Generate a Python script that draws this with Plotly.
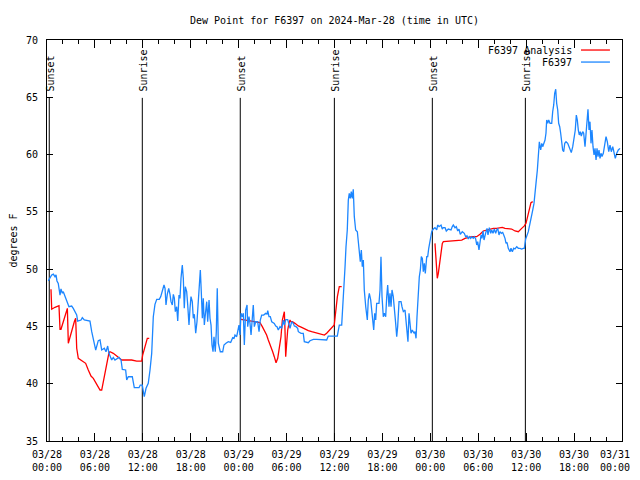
import pandas as pd
import plotly.graph_objects as go

START = pd.Timestamp("2024-03-28 00:00")

# ---- observed dew point (F6397), hours since 03/28 00:00 UTC ----
obs_hours = [
    0.16, 0.59, 0.79, 1.0, 1.13, 1.25, 1.41, 1.63, 1.75, 1.92, 2.04, 2.47, 2.75, 3.09, 3.29,
    3.72, 3.84, 4.26, 4.42, 4.67, 5.38, 5.6, 5.8, 6.1, 6.42, 6.64, 6.85, 7.18, 7.39, 7.6,
    7.76, 8.1, 8.3, 8.51, 9.02, 9.27, 9.43, 9.85, 9.98, 10.18, 10.68, 10.93, 11.52, 11.68, 11.93,
    12.18, 12.4, 12.68, 12.9, 13.11, 13.31, 13.52, 13.74, 14.06, 14.24, 14.49, 14.65, 14.78, 14.9,
    15.06, 15.24, 15.4, 15.53, 15.69, 15.82, 15.94, 16.07, 16.24, 16.37, 16.53, 16.65, 16.78, 16.94,
    17.07, 17.19, 17.32, 17.49, 17.62, 17.78, 17.91, 18.03, 18.19, 18.32, 18.45, 18.62, 18.78, 18.95,
    19.07, 19.2, 19.32, 19.45, 19.57, 19.7, 19.82, 20.0, 20.12, 20.29, 20.41, 20.54, 20.66, 20.79,
    20.91, 21.07, 21.2, 21.32, 21.45, 21.58, 21.7, 22.0, 22.16, 22.41, 22.7, 23.0, 23.25, 23.42,
    23.54, 23.75, 23.88, 24.04, 24.17, 24.29, 24.46, 24.58, 24.71, 24.88, 25.05, 25.13, 25.29, 25.42,
    25.55, 25.71, 25.83, 25.96, 26.13, 26.38, 26.55, 26.71, 26.88, 27.13, 27.39, 27.55, 27.64, 27.8,
    27.96, 28.14, 28.46, 28.64, 28.8, 28.96, 29.18, 29.39, 29.59, 29.71, 29.89, 30.14, 30.3, 30.43,
    30.64, 30.84, 30.97, 31.18, 31.39, 31.47, 31.81, 32.09, 32.22, 32.52, 32.72, 32.93, 33.35, 33.77,
    33.97, 34.31, 34.81, 35.02, 35.22, 36.06, 36.35, 36.6, 36.9, 37.03, 37.19, 37.32, 37.44, 37.6,
    37.73, 37.85, 37.98, 38.1, 38.23, 38.35, 38.48, 38.65, 38.86, 38.98, 39.11, 39.23, 39.36, 39.48,
    39.61, 39.73, 39.91, 40.03, 40.11, 40.23, 40.36, 40.53, 40.66, 40.78, 40.91, 41.03, 41.16, 41.28,
    41.57, 41.7, 41.82, 41.95, 42.11, 42.24, 42.41, 42.54, 42.66, 42.82, 42.95, 43.08, 43.2, 43.36,
    43.49, 43.66, 43.79, 43.91, 44.08, 44.33, 44.45, 44.62, 44.83, 44.95, 45.08, 45.2, 45.33, 45.45,
    45.58, 45.74, 45.96, 46.08, 46.21, 46.33, 46.46, 46.62, 46.75, 46.87, 47.0, 47.12, 47.25, 47.37,
    47.55, 47.67, 47.8, 47.92, 48.05, 48.17, 48.37, 48.58, 48.8, 48.92, 49.09, 49.34, 49.5, 49.62,
    49.84, 50.0, 50.25, 50.59, 50.75, 50.88, 51.09, 51.25, 51.43, 51.59, 51.75, 52.0, 52.25, 52.43,
    52.59, 52.76, 52.88, 53.06, 53.18, 53.38, 53.51, 53.68, 53.81, 53.93, 54.09, 54.22, 54.35, 54.47,
    54.6, 54.72, 54.85, 54.97, 55.1, 55.22, 55.39, 55.56, 55.68, 55.85, 56.01, 56.18, 56.31, 56.44,
    56.6, 56.72, 56.89, 57.06, 57.19, 57.35, 57.48, 57.6, 57.76, 57.98, 58.1, 58.27, 58.44, 58.6,
    58.82, 59.02, 59.23, 59.44, 59.64, 59.77, 59.94, 60.11, 60.27, 60.48, 60.69, 60.82, 60.98, 61.11,
    61.23, 61.4, 61.52, 61.65, 61.82, 61.95, 62.07, 62.23, 62.36, 62.48, 62.57, 62.7, 62.82, 62.99,
    63.2, 63.32, 63.45, 63.57, 63.7, 63.82, 63.95, 64.07, 64.2, 64.32, 64.45, 64.57, 64.7, 64.83,
    64.99, 65.2, 65.37, 65.49, 65.65, 65.83, 65.99, 66.15, 66.28, 66.4, 66.53, 66.65, 66.78, 66.9,
    67.08, 67.2, 67.37, 67.49, 67.62, 67.74, 67.87, 67.99, 68.12, 68.24, 68.37, 68.5, 68.62, 68.75,
    68.87, 69.0, 69.12, 69.25, 69.37, 69.5, 69.66, 69.83, 70.0, 70.16, 70.34, 70.5, 70.66, 70.84,
    71.0, 71.16, 71.34, 71.54, 71.75,
]
obs_values = [
    48.97, 49.49, 49.57, 49.34, 49.5, 48.97, 48.76, 47.74, 48.27, 47.9, 48.03, 47.16, 46.72, 46.78, 46.58,
    46.0, 45.47, 45.56, 45.76, 45.56, 45.47, 44.54, 43.82, 42.94, 43.76, 43.82, 42.94, 43.09, 42.79, 43.29,
    42.65, 42.07, 42.3, 42.07, 42.3, 42.07, 41.25, 41.2, 40.32, 40.61, 40.61, 39.65, 39.65, 39.88, 39.88,
    38.87, 39.6, 40.03, 41.2, 42.65, 45.85, 46.93, 47.37, 47.37, 47.6, 48.33, 48.62, 48.33, 46.87,
    47.8, 48.33, 47.8, 47.16, 46.87, 47.8, 47.5, 46.29, 46.72, 45.47, 47.74, 47.45, 49.2, 50.36,
    49.2, 46.58, 48.47, 48.03, 46.87, 45.12, 46.58, 47.6, 47.16, 45.71, 46.06, 44.4, 45.41, 47.02,
    48.33, 49.93, 48.03, 45.71, 47.45, 45.12, 45.99, 47.16, 45.41, 47.31, 45.71, 45.12, 43.38, 42.79,
    44.1, 42.79, 44.54, 48.33, 43.53, 42.94, 42.79, 42.79, 43.38, 43.53, 43.67, 43.6, 44.02, 43.96,
    44.25, 44.1, 44.54, 45.12, 44.25, 46.15, 45.85, 46.15, 43.38, 46.43, 46.87, 44.98, 45.85, 45.27,
    44.25, 45.71, 46.87, 44.98, 45.41, 45.41, 44.54, 45.56, 45.99, 45.99, 46.15, 46.08, 46.37, 45.85,
    45.85, 45.41, 45.27, 45.04, 44.98, 44.69, 44.98, 44.84, 45.56, 45.12, 45.6, 45.6, 45.27, 44.84,
    45.41, 45.27, 45.04, 44.98, 44.84, 44.54, 44.4, 44.4, 43.67, 43.58, 43.58, 43.75, 43.87, 43.87,
    43.87, 43.82, 43.87, 43.82, 44.16, 44.16, 44.16, 45.12, 45.12, 46.72, 48.18, 50.21, 51.96, 53.42,
    56.03, 56.62, 56.18, 56.76, 56.18, 56.97, 54.58, 53.42, 53.27, 52.54, 51.67, 50.65, 51.67, 50.21,
    50.79, 48.18, 46.72, 46.15, 45.56, 47.31, 47.89, 47.31, 46.43, 45.56, 44.69, 46.15, 45.56, 47.02,
    47.02, 48.18, 51.09, 47.6, 45.85, 46.15, 45.85, 47.6, 48.62, 46.72, 47.89, 46.72, 48.18, 47.6,
    46.15, 45.27, 44.1, 44.98, 47.16, 47.16, 46.72, 46.29, 46.43, 45.56, 44.98, 43.67, 46.15, 44.98,
    44.4, 44.69, 44.4, 44.54, 43.96, 45.85, 47.6, 49.34, 49.93, 51.09, 50.94, 49.78, 50.5, 49.63,
    51.09, 51.09, 51.82, 52.25, 52.69, 53.27, 53.5, 53.62, 53.42, 53.85, 53.71, 53.85, 53.5, 53.62,
    53.62, 53.33, 53.5, 53.42, 53.71, 53.85, 53.62, 53.71, 53.33, 53.5, 53.04, 53.27, 53.13, 52.83,
    52.92, 52.63, 52.83, 52.69, 52.83, 52.69, 52.83, 52.63, 52.11, 52.4, 51.67, 52.54, 52.98, 52.69,
    53.33, 52.54, 53.13, 53.27, 53.56, 52.98, 53.62, 53.13, 53.42, 53.13, 53.5, 53.13, 53.42, 53.56,
    52.98, 53.27, 53.13, 53.21, 52.98, 52.69, 52.25, 52.34, 51.82, 51.52, 51.82, 51.52, 51.82, 51.76,
    51.96, 51.82, 51.82, 51.76, 51.82, 51.82, 52.63, 52.98, 53.27, 54.0, 54.58, 55.16, 55.74, 56.91,
    57.49, 58.65, 60.11, 61.12, 60.4, 60.98, 60.69, 61.12, 61.27, 61.86, 63.02, 62.73, 63.02, 62.73,
    62.73, 63.74, 64.33, 65.35, 65.7, 64.47, 63.89, 62.73, 62.43, 61.86, 60.98, 60.4, 60.25, 60.98,
    61.12, 60.98, 60.69, 60.4, 60.17, 60.69, 61.27, 62.14, 63.45, 63.02, 62.14, 61.71, 62.0, 61.62,
    62.0, 61.86, 60.69, 61.86, 63.02, 63.95, 62.14, 62.87, 60.98, 62.14, 60.69, 59.96, 60.54, 59.53,
    60.54, 59.82, 60.4, 59.67, 60.11, 59.82, 60.11, 60.69, 61.56, 61.12, 60.25, 60.83, 60.25, 60.69,
    60.11, 59.67, 60.11, 60.4, 60.54,
]

# ---- analysis dew point (three separate runs; None = gap) ----
ana_hours = [
    0.5, 0.59, 1.0, 1.5, 1.63, 1.75, 2.04, 2.34, 2.55, 2.67, 2.88, 3.09, 3.26, 3.42, 3.59, 3.72,
    3.92, 4.55, 4.84, 5.17, 5.51, 5.8, 6.01, 6.34, 6.64, 6.85, 7.18, 7.39, 7.6, 7.76, 7.89, 8.3,
    8.73, 9.14, 9.35, 9.77, 10.6, 11.23, 11.86, 11.98, 12.15, 12.39, 12.56, 12.8,
    None,
    24.29, 24.8, 25.42, 25.83, 26.38, 26.67, 26.96, 27.3, 27.5, 27.71, 28.05, 28.26, 28.46, 28.68,
    28.89, 29.09, 29.3, 29.47, 29.59, 29.72, 29.8, 29.89, 30.01, 30.14, 30.3, 30.43, 30.55, 30.72,
    31.05, 31.47, 31.89, 32.3, 32.72, 33.14, 33.56, 33.98, 34.39, 34.73, 35.02, 35.44, 35.85, 35.97,
    36.06, 36.19, 36.36, 36.6, 36.9,
    None,
    48.58, 48.66, 48.75, 48.87, 49.0, 49.17, 49.34, 49.5, 49.63, 50.67, 51.51, 51.93, 52.34, 52.76,
    53.18, 53.8, 54.22, 54.63, 55.06, 55.47, 55.89, 56.31, 56.72, 57.01, 57.35, 57.77, 58.18, 58.6,
    59.02, 59.44, 59.77, 59.98, 60.15, 60.4, 60.6, 60.82,
]
ana_values = [
    48.24, 46.5, 46.67, 46.81, 44.75, 44.75, 45.41, 46.0, 46.58, 43.53, 44.1, 44.69, 45.04, 45.41, 45.71, 43.09,
    42.22, 41.92, 41.78, 41.2, 40.67, 40.47, 40.18, 39.74, 39.45, 39.45, 40.61, 41.63, 42.36, 42.71, 42.79, 42.65,
    42.42, 42.22, 42.07, 42.07, 42.07, 41.98, 41.98, 42.5, 42.94, 43.38, 43.96, 43.96,
    None,
    45.62, 45.56, 45.5, 45.41, 45.41, 45.33, 44.98, 44.54, 44.25, 43.82, 43.24, 42.79, 42.36, 41.83,
    42.22, 43.09, 44.1, 45.56, 45.85, 46.29, 44.69, 42.36, 43.53, 44.69, 45.27, 45.56, 45.41, 45.41,
    45.27, 45.04, 44.92, 44.75, 44.63, 44.54, 44.45, 44.4, 44.34, 44.25, 44.4, 44.69, 44.98, 45.12,
    45.71, 46.72, 47.6, 48.47, 48.47,
    None,
    52.25, 51.52, 50.07, 49.2, 49.63, 50.65, 51.52, 52.25, 52.4, 52.46, 52.46, 52.54, 52.69, 52.75,
    52.83, 52.83, 53.04, 53.33, 53.42, 53.48, 53.56, 53.56, 53.62, 53.65, 53.56, 53.5, 53.5, 53.33,
    53.27, 53.56, 53.77, 54.0, 54.58, 55.3, 55.8, 55.89,
]

# ---- sun events (UTC) ----
sun_times = ["2024-03-28 00:17", "2024-03-28 11:56", "2024-03-29 00:12",
             "2024-03-29 11:59", "2024-03-30 00:15", "2024-03-30 11:54"]
sun_labels = ["Sunset", "Sunrise", "Sunset", "Sunrise", "Sunset", "Sunrise"]

# ---- axis ticks ----
tick_times = ["2024-03-28 00:00", "2024-03-28 06:00", "2024-03-28 12:00", "2024-03-28 18:00",
              "2024-03-29 00:00", "2024-03-29 06:00", "2024-03-29 12:00", "2024-03-29 18:00",
              "2024-03-30 00:00", "2024-03-30 06:00", "2024-03-30 12:00", "2024-03-30 18:00",
              "2024-03-31 00:00"]
tick_labels = ["03/28<br>00:00", "03/28<br>06:00", "03/28<br>12:00", "03/28<br>18:00",
               "03/29<br>00:00", "03/29<br>06:00", "03/29<br>12:00", "03/29<br>18:00",
               "03/30<br>00:00", "03/30<br>06:00", "03/30<br>12:00", "03/30<br>18:00",
               "03/31<br>00:00"]
y_ticks = [35, 40, 45, 50, 55, 60, 65, 70]

series_names = ["F6397 Analysis", "F6397"]
series_colors = ["#ff0000", "#1c86ff"]


def to_time(hours):
    return [None if h is None else START + pd.Timedelta(hours=h) for h in hours]


FONT = "DejaVu Sans Mono"
# the page body adds an 8px offset; the figure is sized to fit inside the window
FIG_W, FIG_H = 632, 464

fig = go.Figure()
fig.add_trace(go.Scatter(x=to_time(ana_hours), y=ana_values, mode="lines",
                         name=series_names[0], connectgaps=False,
                         line=dict(color=series_colors[0], width=1.3)))
fig.add_trace(go.Scatter(x=to_time(obs_hours), y=obs_values, mode="lines",
                         name=series_names[1],
                         line=dict(color=series_colors[1], width=1.3)))

# sunrise / sunset markers
for t, lab in zip(sun_times, sun_labels):
    fig.add_shape(type="line", xref="x", yref="y", x0=t, x1=t, y0=35, y1=64.95,
                  line=dict(color="black", width=1), layer="below")
    fig.add_annotation(x=t, y=65.35, xref="x", yref="y", text=lab, textangle=-90,
                       showarrow=False, xanchor="center", yanchor="bottom", xshift=1,
                       font=dict(family=FONT, size=10, color="black"))

# hand-drawn gnuplot-style key (text right, sample line on the right)
key_rows = [0.975, 0.945]
for name, col, yk in zip(series_names, series_colors, key_rows):
    fig.add_annotation(x=0.9165, y=yk, xref="paper", yref="paper", text=name,
                       showarrow=False, xanchor="right", yanchor="middle",
                       font=dict(family=FONT, size=10, color="black"))
    fig.add_shape(type="line", xref="paper", yref="paper", x0=0.9287, x1=0.979,
                  y0=yk, y1=yk, line=dict(color=col, width=1.3))

# the last tick label would be clipped at the window edge: draw it nudged inward
axis_ticktext = tick_labels[:-1] + [""]
fig.add_annotation(x=tick_times[-1], y=0, xref="x", yref="paper", text=tick_labels[-1],
                   showarrow=False, xanchor="right", yanchor="top", xshift=10, yshift=-6,
                   align="center", font=dict(family=FONT, size=10, color="black"))

fig.update_layout(
    width=FIG_W, height=FIG_H,
    margin=dict(l=39, r=18, t=32, b=31, autoexpand=False),
    paper_bgcolor="white", plot_bgcolor="white",
    showlegend=False,
    font=dict(family=FONT, size=10, color="black"),
    title=dict(text="Dew Point for F6397 on 2024-Mar-28 (time in UTC)",
               x=0.5, xref="paper", y=1 - 12.7 / FIG_H, yref="container",
               xanchor="center", yanchor="middle", automargin=False,
               font=dict(family=FONT, size=10, color="black")),
)
fig.update_xaxes(
    type="date", range=[tick_times[0], tick_times[-1]], automargin=False,
    tickvals=tick_times, ticktext=axis_ticktext, ticklabeloverflow="allow",
    ticks="inside", ticklen=8, tickcolor="black", tickwidth=1,
    minor=dict(dtick=2 * 3600 * 1000, ticks="inside", ticklen=4, tickcolor="black", showgrid=False),
    showline=True, linecolor="black", linewidth=1, mirror="allticks",
    showgrid=False, zeroline=False, ticklabelstandoff=4,
    tickfont=dict(family=FONT, size=10, color="black"),
)
fig.update_yaxes(
    range=[35, 70], tickvals=y_ticks, automargin=False,
    ticks="inside", ticklen=6, tickcolor="black", tickwidth=1,
    showline=True, linecolor="black", linewidth=1, mirror="allticks",
    showgrid=False, zeroline=False, ticklabelstandoff=6,
    title=dict(text="degrees F", standoff=8, font=dict(family=FONT, size=10, color="black")),
    tickfont=dict(family=FONT, size=10, color="black"),
)

fig.write_html("out.html")
